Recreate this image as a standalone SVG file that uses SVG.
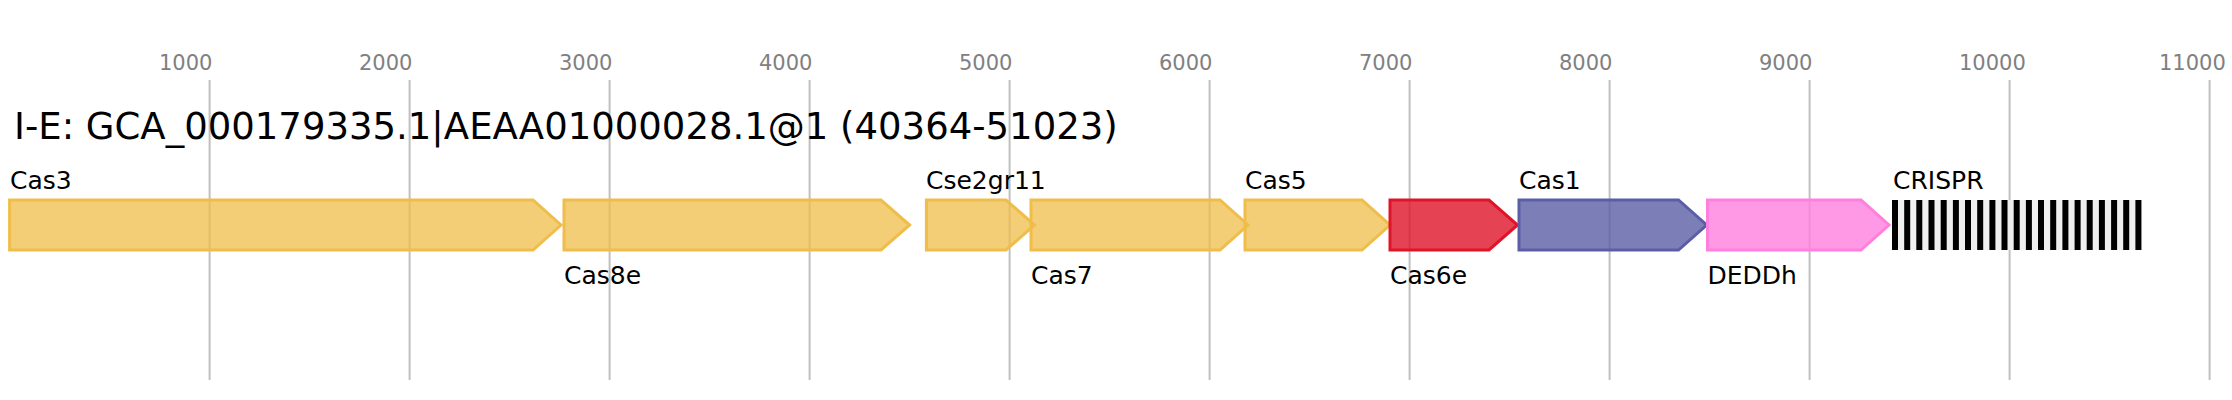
<svg xmlns="http://www.w3.org/2000/svg" width="2232" height="400" viewBox="0 0 2232 400">
<defs>
<style>
.grid{stroke:#c0c0c0;stroke-width:2}
.tick{font-family:"DejaVu Sans",sans-serif;font-size:21px;fill:#808080}
.title{font-family:"DejaVu Sans",sans-serif;font-size:37px;fill:#000}
.lbl{font-family:"DejaVu Sans",sans-serif;font-size:25px;fill:#000}
.gene{stroke-width:3}
.y{fill:#efbd4a;fill-opacity:0.75;stroke:#efbd4a}
.r{fill:#de1428;fill-opacity:0.8;stroke:#e01428}
.p{fill:#5b5ea6;fill-opacity:0.8;stroke:#5b5ea6}
.k{fill:#ff7fdf;fill-opacity:0.8;stroke:#ff7fdf}
.rep{fill:#000}
</style>
</defs>
<rect width="2232" height="400" fill="#fff"/>
<g id="axis">
<line class="grid" x1="209.6" y1="80" x2="209.6" y2="380"/>
<line class="grid" x1="409.6" y1="80" x2="409.6" y2="380"/>
<line class="grid" x1="609.6" y1="80" x2="609.6" y2="380"/>
<line class="grid" x1="809.6" y1="80" x2="809.6" y2="380"/>
<line class="grid" x1="1009.6" y1="80" x2="1009.6" y2="380"/>
<line class="grid" x1="1209.6" y1="80" x2="1209.6" y2="380"/>
<line class="grid" x1="1409.6" y1="80" x2="1409.6" y2="380"/>
<line class="grid" x1="1609.6" y1="80" x2="1609.6" y2="380"/>
<line class="grid" x1="1809.6" y1="80" x2="1809.6" y2="380"/>
<line class="grid" x1="2009.6" y1="80" x2="2009.6" y2="380"/>
<line class="grid" x1="2209.6" y1="80" x2="2209.6" y2="380"/>
<text class="tick" x="159" y="70">1000</text>
<text class="tick" x="359" y="70">2000</text>
<text class="tick" x="559" y="70">3000</text>
<text class="tick" x="759" y="70">4000</text>
<text class="tick" x="959" y="70">5000</text>
<text class="tick" x="1159" y="70">6000</text>
<text class="tick" x="1359" y="70">7000</text>
<text class="tick" x="1559" y="70">8000</text>
<text class="tick" x="1759" y="70">9000</text>
<text class="tick" x="1959" y="70">10000</text>
<text class="tick" x="2159" y="70">11000</text>
</g>
<text class="title" x="14" y="139">I-E: GCA_000179335.1|AEAA01000028.1@1 (40364-51023)</text>
<g id="Cas3">
<polygon class="gene y" points="9.6,200 533,200 561,225 533,250 9.6,250"/>
<text class="lbl" x="10" y="189">Cas3</text>
</g>
<g id="Cas8e">
<polygon class="gene y" points="564,200 881,200 909.6,225 881,250 564,250"/>
<text class="lbl" x="564" y="284">Cas8e</text>
</g>
<g id="Cse2gr11">
<polygon class="gene y" points="926.4,200 1006,200 1034.6,225 1006,250 926.4,250"/>
<text class="lbl" x="926" y="189">Cse2gr11</text>
</g>
<g id="Cas7">
<polygon class="gene y" points="1031,200 1220,200 1248,225 1220,250 1031,250"/>
<text class="lbl" x="1031" y="284">Cas7</text>
</g>
<g id="Cas5">
<polygon class="gene y" points="1245,200 1362,200 1390,225 1362,250 1245,250"/>
<text class="lbl" x="1245" y="189">Cas5</text>
</g>
<g id="Cas6e">
<polygon class="gene r" points="1390,200 1489,200 1517.5,225 1489,250 1390,250"/>
<text class="lbl" x="1390" y="284">Cas6e</text>
</g>
<g id="Cas1">
<polygon class="gene p" points="1519,200 1678.5,200 1706.7,225 1678.5,250 1519,250"/>
<text class="lbl" x="1519" y="189">Cas1</text>
</g>
<g id="DEDDh">
<polygon class="gene k" points="1707.5,200 1861,200 1889,225 1861,250 1707.5,250"/>
<text class="lbl" x="1707.5" y="284">DEDDh</text>
</g>
<g id="CRISPR">
<rect x="1892" y="200" width="250" height="50" fill="#efefef"/>
<rect class="rep" x="1892.0" y="200" width="6" height="50"/>
<rect class="rep" x="1904.2" y="200" width="6" height="50"/>
<rect class="rep" x="1916.3" y="200" width="6" height="50"/>
<rect class="rep" x="1928.5" y="200" width="6" height="50"/>
<rect class="rep" x="1940.7" y="200" width="6" height="50"/>
<rect class="rep" x="1952.9" y="200" width="6" height="50"/>
<rect class="rep" x="1965.0" y="200" width="6" height="50"/>
<rect class="rep" x="1977.2" y="200" width="6" height="50"/>
<rect class="rep" x="1989.4" y="200" width="6" height="50"/>
<rect class="rep" x="2001.5" y="200" width="6" height="50"/>
<rect class="rep" x="2013.7" y="200" width="6" height="50"/>
<rect class="rep" x="2025.9" y="200" width="6" height="50"/>
<rect class="rep" x="2038.0" y="200" width="6" height="50"/>
<rect class="rep" x="2050.2" y="200" width="6" height="50"/>
<rect class="rep" x="2062.4" y="200" width="6" height="50"/>
<rect class="rep" x="2074.6" y="200" width="6" height="50"/>
<rect class="rep" x="2086.7" y="200" width="6" height="50"/>
<rect class="rep" x="2098.9" y="200" width="6" height="50"/>
<rect class="rep" x="2111.1" y="200" width="6" height="50"/>
<rect class="rep" x="2123.2" y="200" width="6" height="50"/>
<rect class="rep" x="2135.4" y="200" width="6" height="50"/>
<text class="lbl" x="1893" y="189">CRISPR</text>
</g>
</svg>
